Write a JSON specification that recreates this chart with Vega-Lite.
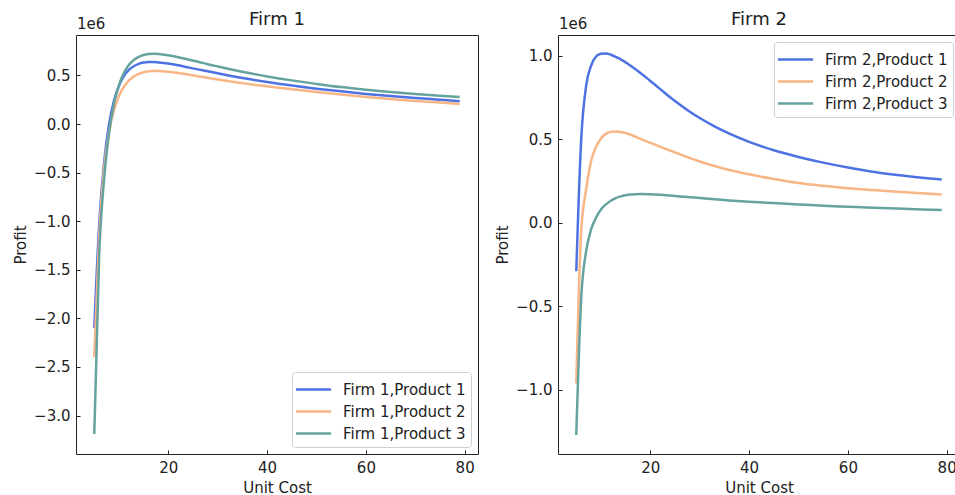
{
  "$schema": "https://vega.github.io/schema/vega-lite/v6.json",
  "padding": {"left": 13, "top": 10, "right": 0, "bottom": 0},
  "config": {
    "font": "DejaVu Sans",
    "view": {"stroke": "#222", "strokeWidth": 1},
    "axis": {"grid": false, "domain": false, "tickColor": "#222", "tickSize": -4, "tickWidth": 1, "labelFontSize": 15, "labelColor": "#222", "labelPadding": 10, "titleFontSize": 15, "titleColor": "#222", "titleFontWeight": "normal", "titlePadding": 5},
    "title": {"fontSize": 18, "fontWeight": "normal", "color": "#222", "offset": -12}
  },
  "datasets": {
    "f1": [
      {"s":"Firm 1,Product 1","c":5,"p":-2100000},{"s":"Firm 1,Product 1","c":6,"p":-1030000},{"s":"Firm 1,Product 1","c":7,"p":-390000},{"s":"Firm 1,Product 1","c":8,"p":0},{"s":"Firm 1,Product 1","c":9,"p":240000},{"s":"Firm 1,Product 1","c":10,"p":394000},{"s":"Firm 1,Product 1","c":11,"p":492000},{"s":"Firm 1,Product 1","c":12,"p":556000},{"s":"Firm 1,Product 1","c":13,"p":595000},{"s":"Firm 1,Product 1","c":14,"p":619000},{"s":"Firm 1,Product 1","c":15,"p":632000},{"s":"Firm 1,Product 1","c":16,"p":638000},{"s":"Firm 1,Product 1","c":17,"p":638000},{"s":"Firm 1,Product 1","c":18,"p":634000},{"s":"Firm 1,Product 1","c":20,"p":622000},{"s":"Firm 1,Product 1","c":22,"p":604000},{"s":"Firm 1,Product 1","c":24,"p":583000},{"s":"Firm 1,Product 1","c":26,"p":562000},{"s":"Firm 1,Product 1","c":28,"p":542000},{"s":"Firm 1,Product 1","c":30,"p":522000},{"s":"Firm 1,Product 1","c":33,"p":492000},{"s":"Firm 1,Product 1","c":36,"p":465000},{"s":"Firm 1,Product 1","c":40,"p":432000},{"s":"Firm 1,Product 1","c":45,"p":396000},{"s":"Firm 1,Product 1","c":50,"p":364000},{"s":"Firm 1,Product 1","c":55,"p":336000},{"s":"Firm 1,Product 1","c":60,"p":310000},{"s":"Firm 1,Product 1","c":65,"p":288000},{"s":"Firm 1,Product 1","c":70,"p":268000},{"s":"Firm 1,Product 1","c":75,"p":250000},{"s":"Firm 1,Product 1","c":79,"p":234000},
      {"s":"Firm 1,Product 2","c":5,"p":-2400000},{"s":"Firm 1,Product 2","c":6,"p":-1150000},{"s":"Firm 1,Product 2","c":7,"p":-450000},{"s":"Firm 1,Product 2","c":8,"p":-80000},{"s":"Firm 1,Product 2","c":9,"p":144000},{"s":"Firm 1,Product 2","c":10,"p":288000},{"s":"Firm 1,Product 2","c":11,"p":383000},{"s":"Firm 1,Product 2","c":12,"p":447000},{"s":"Firm 1,Product 2","c":13,"p":489000},{"s":"Firm 1,Product 2","c":14,"p":516000},{"s":"Firm 1,Product 2","c":15,"p":533000},{"s":"Firm 1,Product 2","c":16,"p":542000},{"s":"Firm 1,Product 2","c":17,"p":546000},{"s":"Firm 1,Product 2","c":18,"p":546000},{"s":"Firm 1,Product 2","c":20,"p":538000},{"s":"Firm 1,Product 2","c":22,"p":525000},{"s":"Firm 1,Product 2","c":24,"p":509000},{"s":"Firm 1,Product 2","c":26,"p":492000},{"s":"Firm 1,Product 2","c":28,"p":475000},{"s":"Firm 1,Product 2","c":30,"p":458000},{"s":"Firm 1,Product 2","c":33,"p":435000},{"s":"Firm 1,Product 2","c":36,"p":413000},{"s":"Firm 1,Product 2","c":40,"p":388000},{"s":"Firm 1,Product 2","c":45,"p":357000},{"s":"Firm 1,Product 2","c":50,"p":330000},{"s":"Firm 1,Product 2","c":55,"p":303000},{"s":"Firm 1,Product 2","c":60,"p":278000},{"s":"Firm 1,Product 2","c":65,"p":257000},{"s":"Firm 1,Product 2","c":70,"p":238000},{"s":"Firm 1,Product 2","c":75,"p":221000},{"s":"Firm 1,Product 2","c":79,"p":206000},
      {"s":"Firm 1,Product 3","c":5,"p":-3190000},{"s":"Firm 1,Product 3","c":6,"p":-1350000},{"s":"Firm 1,Product 3","c":7,"p":-560000},{"s":"Firm 1,Product 3","c":8,"p":-90000},{"s":"Firm 1,Product 3","c":9,"p":210000},{"s":"Firm 1,Product 3","c":10,"p":400000},{"s":"Firm 1,Product 3","c":11,"p":526000},{"s":"Firm 1,Product 3","c":12,"p":607000},{"s":"Firm 1,Product 3","c":13,"p":659000},{"s":"Firm 1,Product 3","c":14,"p":692000},{"s":"Firm 1,Product 3","c":15,"p":711000},{"s":"Firm 1,Product 3","c":16,"p":720000},{"s":"Firm 1,Product 3","c":17,"p":723000},{"s":"Firm 1,Product 3","c":18,"p":721000},{"s":"Firm 1,Product 3","c":20,"p":707000},{"s":"Firm 1,Product 3","c":22,"p":687000},{"s":"Firm 1,Product 3","c":24,"p":664000},{"s":"Firm 1,Product 3","c":26,"p":640000},{"s":"Firm 1,Product 3","c":28,"p":615000},{"s":"Firm 1,Product 3","c":30,"p":592000},{"s":"Firm 1,Product 3","c":33,"p":558000},{"s":"Firm 1,Product 3","c":36,"p":527000},{"s":"Firm 1,Product 3","c":40,"p":490000},{"s":"Firm 1,Product 3","c":45,"p":449000},{"s":"Firm 1,Product 3","c":50,"p":413000},{"s":"Firm 1,Product 3","c":55,"p":380000},{"s":"Firm 1,Product 3","c":60,"p":353000},{"s":"Firm 1,Product 3","c":65,"p":330000},{"s":"Firm 1,Product 3","c":70,"p":309000},{"s":"Firm 1,Product 3","c":75,"p":291000},{"s":"Firm 1,Product 3","c":79,"p":278000}
    ],
    "f2": [
      {"s":"Firm 2,Product 1","c":5,"p":-290000},{"s":"Firm 2,Product 1","c":6,"p":500000},{"s":"Firm 2,Product 1","c":7,"p":820000},{"s":"Firm 2,Product 1","c":8,"p":940000},{"s":"Firm 2,Product 1","c":9,"p":995000},{"s":"Firm 2,Product 1","c":10,"p":1012000},{"s":"Firm 2,Product 1","c":11,"p":1014000},{"s":"Firm 2,Product 1","c":12,"p":1006000},{"s":"Firm 2,Product 1","c":13,"p":993000},{"s":"Firm 2,Product 1","c":14,"p":978000},{"s":"Firm 2,Product 1","c":15,"p":960000},{"s":"Firm 2,Product 1","c":16,"p":940000},{"s":"Firm 2,Product 1","c":17,"p":919000},{"s":"Firm 2,Product 1","c":18,"p":897000},{"s":"Firm 2,Product 1","c":20,"p":849000},{"s":"Firm 2,Product 1","c":22,"p":800000},{"s":"Firm 2,Product 1","c":24,"p":752000},{"s":"Firm 2,Product 1","c":26,"p":707000},{"s":"Firm 2,Product 1","c":28,"p":665000},{"s":"Firm 2,Product 1","c":30,"p":627000},{"s":"Firm 2,Product 1","c":33,"p":577000},{"s":"Firm 2,Product 1","c":36,"p":533000},{"s":"Firm 2,Product 1","c":40,"p":484000},{"s":"Firm 2,Product 1","c":45,"p":434000},{"s":"Firm 2,Product 1","c":50,"p":394000},{"s":"Firm 2,Product 1","c":55,"p":360000},{"s":"Firm 2,Product 1","c":60,"p":331000},{"s":"Firm 2,Product 1","c":65,"p":306000},{"s":"Firm 2,Product 1","c":70,"p":286000},{"s":"Firm 2,Product 1","c":75,"p":270000},{"s":"Firm 2,Product 1","c":79,"p":259000},
      {"s":"Firm 2,Product 2","c":5,"p":-960000},{"s":"Firm 2,Product 2","c":6,"p":-50000},{"s":"Firm 2,Product 2","c":7,"p":200000},{"s":"Firm 2,Product 2","c":8,"p":370000},{"s":"Firm 2,Product 2","c":9,"p":455000},{"s":"Firm 2,Product 2","c":10,"p":505000},{"s":"Firm 2,Product 2","c":11,"p":532000},{"s":"Firm 2,Product 2","c":12,"p":544000},{"s":"Firm 2,Product 2","c":13,"p":547000},{"s":"Firm 2,Product 2","c":14,"p":544000},{"s":"Firm 2,Product 2","c":15,"p":537000},{"s":"Firm 2,Product 2","c":16,"p":527000},{"s":"Firm 2,Product 2","c":17,"p":515000},{"s":"Firm 2,Product 2","c":18,"p":502000},{"s":"Firm 2,Product 2","c":20,"p":478000},{"s":"Firm 2,Product 2","c":22,"p":455000},{"s":"Firm 2,Product 2","c":24,"p":432000},{"s":"Firm 2,Product 2","c":26,"p":410000},{"s":"Firm 2,Product 2","c":28,"p":388000},{"s":"Firm 2,Product 2","c":30,"p":367000},{"s":"Firm 2,Product 2","c":33,"p":340000},{"s":"Firm 2,Product 2","c":36,"p":316000},{"s":"Firm 2,Product 2","c":40,"p":290000},{"s":"Firm 2,Product 2","c":45,"p":262000},{"s":"Firm 2,Product 2","c":50,"p":238000},{"s":"Firm 2,Product 2","c":55,"p":221000},{"s":"Firm 2,Product 2","c":60,"p":207000},{"s":"Firm 2,Product 2","c":65,"p":196000},{"s":"Firm 2,Product 2","c":70,"p":186000},{"s":"Firm 2,Product 2","c":75,"p":177000},{"s":"Firm 2,Product 2","c":79,"p":170000},
      {"s":"Firm 2,Product 3","c":5,"p":-1270000},{"s":"Firm 2,Product 3","c":6,"p":-450000},{"s":"Firm 2,Product 3","c":7,"p":-170000},{"s":"Firm 2,Product 3","c":8,"p":-40000},{"s":"Firm 2,Product 3","c":9,"p":30000},{"s":"Firm 2,Product 3","c":10,"p":80000},{"s":"Firm 2,Product 3","c":11,"p":110000},{"s":"Firm 2,Product 3","c":12,"p":132000},{"s":"Firm 2,Product 3","c":13,"p":148000},{"s":"Firm 2,Product 3","c":14,"p":158000},{"s":"Firm 2,Product 3","c":15,"p":165000},{"s":"Firm 2,Product 3","c":16,"p":169000},{"s":"Firm 2,Product 3","c":17,"p":171000},{"s":"Firm 2,Product 3","c":18,"p":172000},{"s":"Firm 2,Product 3","c":20,"p":171000},{"s":"Firm 2,Product 3","c":22,"p":168000},{"s":"Firm 2,Product 3","c":24,"p":163000},{"s":"Firm 2,Product 3","c":26,"p":158000},{"s":"Firm 2,Product 3","c":28,"p":153000},{"s":"Firm 2,Product 3","c":30,"p":148000},{"s":"Firm 2,Product 3","c":33,"p":141000},{"s":"Firm 2,Product 3","c":36,"p":134000},{"s":"Firm 2,Product 3","c":40,"p":126000},{"s":"Firm 2,Product 3","c":45,"p":118000},{"s":"Firm 2,Product 3","c":50,"p":110000},{"s":"Firm 2,Product 3","c":55,"p":102000},{"s":"Firm 2,Product 3","c":60,"p":96000},{"s":"Firm 2,Product 3","c":65,"p":90000},{"s":"Firm 2,Product 3","c":70,"p":85000},{"s":"Firm 2,Product 3","c":75,"p":80000},{"s":"Firm 2,Product 3","c":79,"p":76000}
    ]
  },
  "resolve": {"scale": {"x": "independent", "y": "independent", "color": "independent"}, "legend": {"color": "independent"}},
  "spacing": 16,
  "hconcat": [
    {
      "width": 402, "height": 419,
      "title": "Firm 1",
      "layer": [
        {
          "data": {"name": "f1"},
          "mark": {"type": "line", "strokeWidth": 2.5, "interpolate": "monotone"},
          "encoding": {
            "x": {"field": "c", "type": "quantitative", "title": "Unit Cost", "scale": {"domain": [1.3, 82.7], "nice": false, "zero": false}, "axis": {"values": [20, 40, 60, 80], "format": "d"}},
            "y": {"field": "p", "type": "quantitative", "title": "Profit", "scale": {"domain": [-3396000, 916000], "nice": false, "zero": false}, "axis": {"values": [-3000000, -2500000, -2000000, -1500000, -1000000, -500000, 0, 500000], "labelExpr": "format(datum.value / 1000000, '.1f')"}},
            "color": {"field": "s", "type": "nominal", "scale": {"domain": ["Firm 1,Product 1", "Firm 1,Product 2", "Firm 1,Product 3"], "range": ["#4f72e3", "#f8b586", "#66a39f"]},
              "legend": {"title": null, "orient": "bottom-right", "offset": 7, "symbolType": "M-1.6,0H1.6", "symbolSize": 484, "symbolStrokeWidth": 2.6, "labelFontSize": 15, "labelColor": "#222", "fillColor": "rgba(255,255,255,0.85)", "strokeColor": "#cfcfcf", "cornerRadius": 3, "padding": 5, "rowPadding": 1, "symbolOffset": 4, "labelOffset": 17}}
          }
        },
        {
          "data": {"values": [{"t": "1e6"}]},
          "mark": {"type": "text", "align": "left", "baseline": "bottom", "dy": -3, "dx": 1, "fontSize": 15, "color": "#222"},
          "encoding": {
            "x": {"datum": 1.3, "type": "quantitative", "title": "Unit Cost"},
            "y": {"datum": 916000, "type": "quantitative", "title": "Profit"},
            "text": {"field": "t"}
          }
        }
      ]
    },
    {
      "width": 402, "height": 419,
      "title": "Firm 2",
      "layer": [
        {
          "data": {"name": "f2"},
          "mark": {"type": "line", "strokeWidth": 2.5, "interpolate": "monotone"},
          "encoding": {
            "x": {"field": "c", "type": "quantitative", "title": "Unit Cost", "scale": {"domain": [1.3, 82.7], "nice": false, "zero": false}, "axis": {"values": [20, 40, 60, 80], "format": "d"}},
            "y": {"field": "p", "type": "quantitative", "title": "Profit", "scale": {"domain": [-1384000, 1124000], "nice": false, "zero": false}, "axis": {"values": [-1000000, -500000, 0, 500000, 1000000], "labelExpr": "format(datum.value / 1000000, '.1f')"}},
            "color": {"field": "s", "type": "nominal", "scale": {"domain": ["Firm 2,Product 1", "Firm 2,Product 2", "Firm 2,Product 3"], "range": ["#4f72e3", "#f8b586", "#66a39f"]},
              "legend": {"title": null, "orient": "top-right", "offset": 7, "symbolType": "M-1.6,0H1.6", "symbolSize": 484, "symbolStrokeWidth": 2.6, "labelFontSize": 15, "labelColor": "#222", "fillColor": "rgba(255,255,255,0.85)", "strokeColor": "#cfcfcf", "cornerRadius": 3, "padding": 5, "rowPadding": 1, "symbolOffset": 4, "labelOffset": 17}}
          }
        },
        {
          "data": {"values": [{"t": "1e6"}]},
          "mark": {"type": "text", "align": "left", "baseline": "bottom", "dy": -3, "dx": 1, "fontSize": 15, "color": "#222"},
          "encoding": {
            "x": {"datum": 1.3, "type": "quantitative", "title": "Unit Cost"},
            "y": {"datum": 1124000, "type": "quantitative", "title": "Profit"},
            "text": {"field": "t"}
          }
        }
      ]
    }
  ]
}
